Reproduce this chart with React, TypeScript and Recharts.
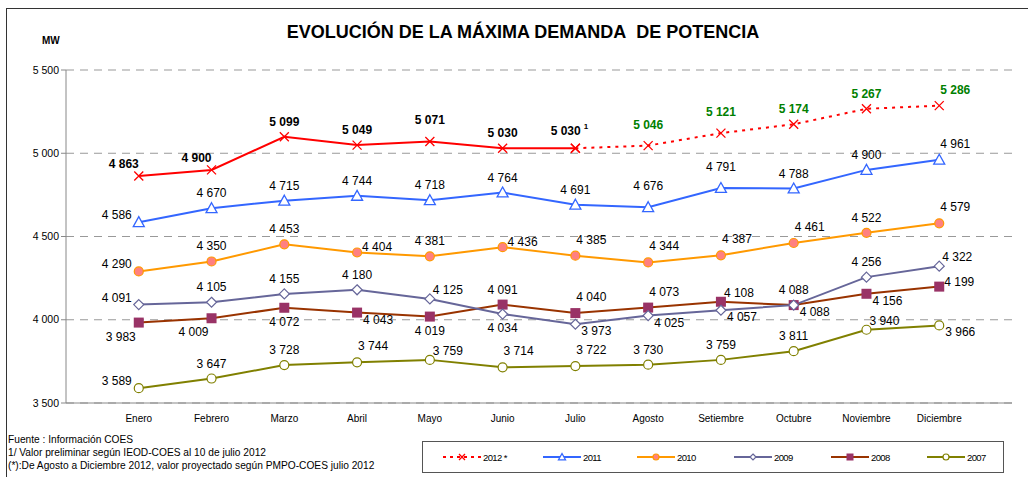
import React from 'react';
import { LineChart, Line, XAxis, YAxis, CartesianGrid, LabelList } from 'recharts';

const months = [
  'Enero', 'Febrero', 'Marzo', 'Abril', 'Mayo', 'Junio',
  'Julio', 'Agosto', 'Setiembre', 'Octubre', 'Noviembre', 'Diciembre',
];
// 2012 real (Enero-Julio) y proyectado (Julio-Diciembre)
const y2012 = [4863, 4900, 5099, 5049, 5071, 5030, 5030];
const y2012proj = [5030, 5046, 5121, 5174, 5267, 5286];
const y2011 = [4586, 4670, 4715, 4744, 4718, 4764, 4691, 4676, 4791, 4788, 4900, 4961];
const y2010 = [4290, 4350, 4453, 4404, 4381, 4436, 4385, 4344, 4387, 4461, 4522, 4579];
const y2009 = [4091, 4105, 4155, 4180, 4125, 4034, 3973, 4025, 4057, 4088, 4256, 4322];
const y2008 = [3983, 4009, 4072, 4043, 4019, 4091, 4040, 4073, 4108, 4088, 4156, 4199];
const y2007 = [3589, 3647, 3728, 3744, 3759, 3714, 3722, 3730, 3759, 3811, 3940, 3966];
const yTicks = [3500, 4000, 4500, 5000, 5500];

const data = months.map((m, i) => ({
  idx: i + 1,
  month: m,
  v2012: i < y2012.length ? y2012[i] : null,
  p2012: i >= 6 ? y2012proj[i - 6] : null,
  v2011: y2011[i],
  v2010: y2010[i],
  v2009: y2009[i],
  v2008: y2008[i],
  v2007: y2007[i],
}));

// where each data label sits relative to its point
const OFF: Record<string, [number, number]> = {
  T: [0, -15],
  TT: [0, -21],
  TJ: [-6, -17],
  TL: [-15, -12],
  TR: [16, -16],
  RT: [18, -9],
  R: [20, -5],
  BR: [21, 7],
  B: [0, 14],
  BL: [-18, 14],
  L: [-22, -7],
};
const place2012 = ['TL', 'TL', 'T', 'T', 'TT', 'T', 'TJ'];
const place2012p = ['', '', '', '', '', '', '', 'TT', 'TT', 'T', 'T', 'TR'];
const place2011 = ['L', 'T', 'T', 'T', 'T', 'T', 'T', 'TT', 'TT', 'T', 'T', 'TR'];
const place2010 = ['L', 'T', 'T', 'R', 'T', 'R', 'TR', 'TR', 'TR', 'TR', 'T', 'TR'];
const place2009 = ['L', 'T', 'T', 'T', 'RT', 'B', 'BR', 'BR', 'BR', 'BR', 'T', 'RT'];
const place2008 = ['BL', 'BL', 'B', 'BR', 'B', 'T', 'TR', 'TR', 'RT', 'T', 'BR', 'R'];
const place2007 = ['L', 'T', 'T', 'TR', 'RT', 'TR', 'TR', 'T', 'T', 'T', 'RT', 'BR'];

const FONT = '"Liberation Sans", Arial, sans-serif';
const fmt = (v: number) => String(v).replace(/\B(?=(\d{3})+(?!\d))/g, ' ');

const makeLabel = (places: string[], opts: { bold?: boolean; color?: string; sup?: number } = {}) =>
  (props: any) => {
    const { x, y, value, index } = props;
    const code = places[index];
    if (value == null || !code || x == null || y == null) return null;
    const [dx, dy] = OFF[code];
    return (
      <text
        x={x + dx}
        y={y + dy}
        textAnchor="middle"
        dominantBaseline="central"
        fontFamily={FONT}
        fontSize={12}
        fontWeight={opts.bold ? 'bold' : 'normal'}
        fill={opts.color || '#000'}
      >
        {fmt(value)}
        {opts.sup === index && (
          <tspan dx={3} dy={-5} fontSize={8}>1</tspan>
        )}
      </text>
    );
  };

const ok = (p: any) => p.cx != null && p.cy != null && p.value != null;

const CrossDot = (p: any) => {
  if (!ok(p)) return null;
  const { cx, cy } = p;
  const s = p.s || 4.5;
  return (
    <path
      d={`M${cx - s},${cy - s}L${cx + s},${cy + s}M${cx + s},${cy - s}L${cx - s},${cy + s}`}
      stroke="#FF0000"
      strokeWidth={1.3}
    />
  );
};
const TriDot = (p: any) => {
  if (!ok(p)) return null;
  const { cx, cy } = p;
  const s = p.s || 5.5;
  return (
    <path
      d={`M${cx},${cy - s}L${cx + s},${cy + s * 0.8}L${cx - s},${cy + s * 0.8}Z`}
      fill="#fff"
      stroke="#3366FF"
      strokeWidth={1.3}
    />
  );
};
const OrangeDot = (p: any) => {
  if (!ok(p)) return null;
  return <circle cx={p.cx} cy={p.cy} r={p.s || 4.5} fill="#FF8080" stroke="#FF9900" strokeWidth={1.2} />;
};
const DiamondDot = (p: any) => {
  if (!ok(p)) return null;
  const { cx, cy } = p;
  const s = p.s || 5;
  return (
    <path
      d={`M${cx},${cy - s}L${cx + s},${cy}L${cx},${cy + s}L${cx - s},${cy}Z`}
      fill="#fff"
      stroke="#666699"
      strokeWidth={1.2}
    />
  );
};
const SquareDot = (p: any) => {
  if (!ok(p)) return null;
  const s = p.s || 5;
  return <rect x={p.cx - s} y={p.cy - s} width={2 * s} height={2 * s} fill="#993366" />;
};
const RingDot = (p: any) => {
  if (!ok(p)) return null;
  return <circle cx={p.cx} cy={p.cy} r={p.s || 4.5} fill="#fff" stroke="#808000" strokeWidth={1.2} />;
};

const legendItems = [
  { name: '2012 *', color: '#FF0000', dash: '3 4', x: 20, Dot: CrossDot, s: 3 },
  { name: '2011', color: '#3366FF', x: 120, Dot: TriDot, s: 3.5 },
  { name: '2010', color: '#FF9900', x: 214, Dot: OrangeDot, s: 3 },
  { name: '2009', color: '#666699', x: 311, Dot: DiamondDot, s: 3 },
  { name: '2008', color: '#993300', x: 408, Dot: SquareDot, s: 3.5 },
  { name: '2007', color: '#808000', x: 504, Dot: RingDot, s: 3 },
];

function LegendBox() {
  return (
    <div
      style={{
        position: 'absolute',
        left: 422,
        top: 441,
        width: 580,
        height: 30,
        border: '1px solid #555',
        background: '#fff',
      }}
    >
      <svg width={580} height={30}>
        {legendItems.map((it) => (
          <g key={it.name}>
            <line
              x1={it.x}
              x2={it.x + 38}
              y1={15}
              y2={15}
              stroke={it.color}
              strokeWidth={2}
              strokeDasharray={it.dash}
            />
            {it.Dot({ cx: it.x + 19, cy: 15, value: 1, s: it.s })}
            <text
              x={it.x + 40}
              y={15}
              dominantBaseline="central"
              fontFamily={FONT}
              fontSize={9.5}
              letterSpacing={-0.6}
              fill="#000"
            >
              {it.name}
            </text>
          </g>
        ))}
      </svg>
    </div>
  );
}

export default function App() {
  return (
    <div
      style={{
        position: 'absolute',
        left: 0,
        top: 0,
        width: 1028,
        height: 477,
        background: '#fff',
        overflow: 'hidden',
        fontFamily: FONT,
      }}
    >
      <div
        style={{
          position: 'absolute',
          left: 6,
          top: 8,
          width: 1040,
          height: 500,
          borderTop: '1px solid #333',
          borderLeft: '1px solid #333',
        }}
      />
      <div
        style={{
          position: 'absolute',
          left: 0,
          top: 23,
          width: 1046,
          textAlign: 'center',
          fontSize: 18,
          lineHeight: '19px',
          fontWeight: 'bold',
          color: '#000',
        }}
      >
        EVOLUCIÓN DE LA MÁXIMA DEMANDA&nbsp; DE POTENCIA
      </div>
      <div style={{ position: 'absolute', left: 42, top: 35, fontSize: 10, fontWeight: 'bold' }}>MW</div>

      <div style={{ position: 'absolute', left: 0, top: 0 }}>
        <LineChart
          width={1028}
          height={477}
          data={data}
          margin={{ top: 70, right: 16, left: 0, bottom: 44 }}
        >
          <CartesianGrid vertical={false} stroke="#999" strokeDasharray="8 6" />
          <XAxis
            type="number"
            dataKey="idx"
            domain={[0, 13]}
            ticks={[1, 2, 3, 4, 5, 6, 7, 8, 9, 10, 11, 12]}
            interval={0}
            tickFormatter={(v: number) => months[v - 1]}
            tickLine={false}
            axisLine={{ stroke: '#888' }}
            tick={{ fontSize: 10, fill: '#000', fontFamily: FONT }}
            height={30}
            tickMargin={6}
          />
          <YAxis
            type="number"
            domain={[3500, 5500]}
            ticks={yTicks}
            tickFormatter={fmt}
            width={66}
            tickSize={5}
            axisLine={{ stroke: '#888' }}
            tickLine={{ stroke: '#888' }}
            tick={{ fontSize: 10.5, fill: '#000', fontFamily: FONT }}
          />
          <Line dataKey="v2007" stroke="#808000" strokeWidth={2} dot={RingDot} isAnimationActive={false}>
            <LabelList dataKey="v2007" content={makeLabel(place2007)} />
          </Line>
          <Line dataKey="v2008" stroke="#993300" strokeWidth={2} dot={SquareDot} isAnimationActive={false}>
            <LabelList dataKey="v2008" content={makeLabel(place2008)} />
          </Line>
          <Line dataKey="v2009" stroke="#666699" strokeWidth={2} dot={DiamondDot} isAnimationActive={false}>
            <LabelList dataKey="v2009" content={makeLabel(place2009)} />
          </Line>
          <Line dataKey="v2010" stroke="#FF9900" strokeWidth={2} dot={OrangeDot} isAnimationActive={false}>
            <LabelList dataKey="v2010" content={makeLabel(place2010)} />
          </Line>
          <Line dataKey="v2011" stroke="#3366FF" strokeWidth={2} dot={TriDot} isAnimationActive={false}>
            <LabelList dataKey="v2011" content={makeLabel(place2011)} />
          </Line>
          <Line
            dataKey="p2012"
            stroke="#FF0000"
            strokeWidth={2}
            strokeDasharray="3 5"
            dot={CrossDot}
            isAnimationActive={false}
          >
            <LabelList dataKey="p2012" content={makeLabel(place2012p, { bold: true, color: '#008000' })} />
          </Line>
          <Line dataKey="v2012" stroke="#FF0000" strokeWidth={2} dot={CrossDot} isAnimationActive={false}>
            <LabelList dataKey="v2012" content={makeLabel(place2012, { bold: true, sup: 6 })} />
          </Line>
        </LineChart>
      </div>

      <div
        style={{
          position: 'absolute',
          left: 8,
          top: 433,
          fontSize: 10.2,
          lineHeight: '13px',
          color: '#000',
          whiteSpace: 'nowrap',
        }}
      >
        <div>Fuente : Información COES</div>
        <div>1/ Valor preliminar según IEOD-COES al 10 de julio 2012</div>
        <div>(*):De Agosto a Diciembre 2012, valor proyectado según PMPO-COES julio 2012</div>
      </div>
      <LegendBox />
    </div>
  );
}
